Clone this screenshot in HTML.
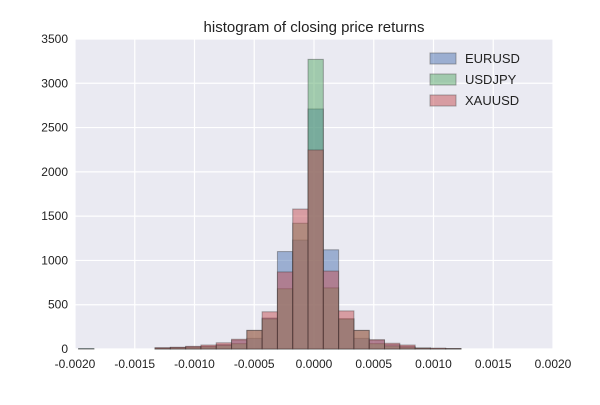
<!DOCTYPE html>
<html><head><meta charset="utf-8"><style>
body{margin:0;background:#fff;font-family:"Liberation Sans",sans-serif}
</style></head><body>
<svg width="600" height="400" id="c" font-family="Liberation Sans, sans-serif">
<rect x="75" y="39" width="478" height="310" fill="#eaeaf2"/>
<g id="grid"></g><g id="bars"></g><g id="ticks"></g>
<text x="314" y="32" text-anchor="middle" font-size="15" fill="#222">histogram of closing price returns</text>
<g>
<g><rect x="430" y="53" width="26" height="11" fill="#4c72b0" fill-opacity="0.5" stroke="#555" stroke-opacity="0.5"/><text x="465" y="63" font-size="13" fill="#222">EURUSD</text></g>
<g><rect x="430" y="74" width="26" height="11" fill="#55a868" fill-opacity="0.5" stroke="#555" stroke-opacity="0.5"/><text x="465" y="84" font-size="13" fill="#222">USDJPY</text></g>
<g><rect x="430" y="95" width="26" height="11" fill="#c44e52" fill-opacity="0.5" stroke="#555" stroke-opacity="0.5"/><text x="465" y="105" font-size="13" fill="#222">XAUUSD</text></g>
</g>
</svg>
<script>
const binStart = -0.00197;
const binWidth = 0.000128;
const eurusd = [5,0,0,0,0,10,15,25,30,50,100,120,350,1100,1230,2710,1120,340,120,100,50,30,10,5,5,0,0,0,0,0,0];
const usdjpy = [3,0,0,0,0,10,15,20,25,40,60,210,340,680,1420,3270,690,340,210,60,35,20,10,5,5,0,0,0,0,0,0];
const xauusd = [0,0,0,0,0,15,20,30,45,70,110,210,420,870,1580,2247,880,430,210,105,65,45,10,10,5,0,0,0,0,0,0];
const xTicks = [-0.002,-0.0015,-0.001,-0.0005,0,0.0005,0.001,0.0015,0.002];
const xTickLabels = ["-0.0020","-0.0015","-0.0010","-0.0005","0.0000","0.0005","0.0010","0.0015","0.0020"];
const yTicks = [0,500,1000,1500,2000,2500,3000,3500];
const NS="http://www.w3.org/2000/svg";
const X=v=>75+(v+0.002)/0.004*478;
const Y=v=>349-v/3500*310;
function mk(tag,attrs,parent){const e=document.createElementNS(NS,tag);for(const k in attrs)e.setAttribute(k,attrs[k]);parent.appendChild(e);return e;}
const grid=document.getElementById('grid'),ticks=document.getElementById('ticks'),bars=document.getElementById('bars');
xTicks.forEach((t,i)=>{
 const l=mk('line',{x1:X(t),x2:X(t),y1:39,y2:349,stroke:'#fff','stroke-width':1.2},grid);
 
 
 const tx=mk('text',{x:X(t),y:368,'text-anchor':'middle','font-size':12,fill:'#222'},ticks);
 tx.textContent=xTickLabels[i];
 
 
});
yTicks.forEach(t=>{
 const l=mk('line',{x1:75,x2:553,y1:Y(t),y2:Y(t),stroke:'#fff','stroke-width':1.2},grid);
 
 
 const tx=mk('text',{x:68,y:Y(t)+4,'text-anchor':'end','font-size':12,fill:'#222'},ticks);
 tx.textContent=t;
 
 
});
[[eurusd,'#4c72b0','eurusd'],[usdjpy,'#55a868','usdjpy'],[xauusd,'#c44e52','xauusd']].forEach(([d,c,n])=>{
 d.forEach((v,i)=>{
  if(v<=0)return;
  const x0=X(binStart+i*binWidth),x1=X(binStart+(i+1)*binWidth);
  const r=mk('rect',{x:x0,y:Y(v),width:x1-x0,height:349-Y(v),fill:c,'fill-opacity':0.5,stroke:'#333','stroke-opacity':0.4,'stroke-width':1},bars);
  
  
 });
});
</script>
</body></html>
